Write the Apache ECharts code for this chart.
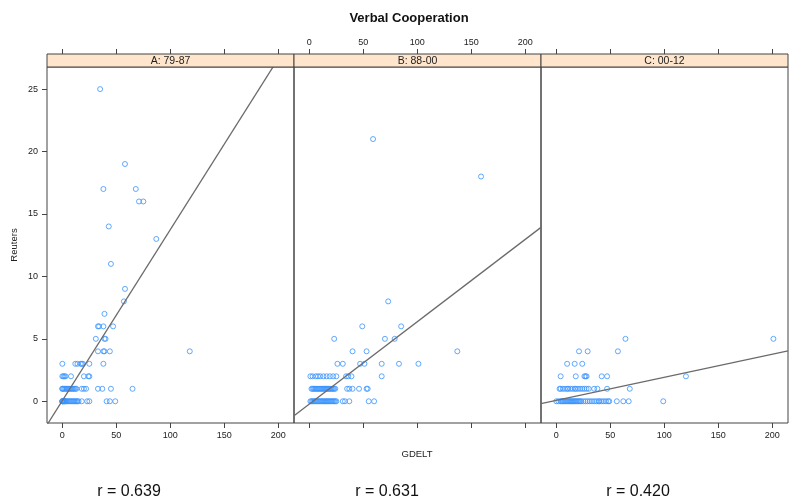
<!DOCTYPE html>
<html>
<head>
<meta charset="utf-8">
<script src="https://cdn.jsdelivr.net/npm/echarts@6/dist/echarts.min.js"></script>
<style>
html,body{margin:0;padding:0;background:#fff;}
#chart{width:789px;height:504px;}
</style>
</head>
<body>
<div id="chart"></div>
<script>
// ---- data ----
const panelNames = ['A: 79-87', 'B: 88-00', 'C: 00-12'];
const rLabels = ['r = 0.639', 'r = 0.631', 'r = 0.420'];
const xTicks = [0, 50, 100, 150, 200];
const yTicks = [0, 5, 10, 15, 20, 25];

// Reuters levels and GDELT values observed at each level
const panelA_reuters = [0, 1, 2, 3, 4, 5, 6, 7, 8, 9, 11, 13, 14, 16, 17, 19, 25];
const panelA_gdelt = [
  [0,0,0,0,1,1,2,2,3,3,4,5,6,7,8,9,10,11,12,13,14,15,18,23,25,41,44,49],
  [0,0,1,2,3,4,5,6,7,8,9,10,11,12,13,18,20,22,33,37,45,65],
  [0,1,2,3,8,20,24,25],
  [0,12,14,17,18,19,25,38],
  [33,38,39,44,118],
  [31,39,40],
  [33,34,38,47],
  [39],
  [57],
  [58],
  [45],
  [87],
  [43],
  [71,75],
  [38,68],
  [58],
  [35]
];

const panelB_reuters = [0, 1, 2, 3, 4, 5, 6, 8, 18, 21];
const panelB_gdelt = [
  [1,2,3,4,5,6,7,8,9,10,11,12,13,14,15,16,17,18,19,20,21,22,23,24,25,31,33,37,55,60],
  [2,3,4,5,6,7,8,9,10,11,12,13,14,15,16,17,18,19,20,21,22,23,24,35,37,40,46,53,54],
  [1,3,6,8,10,13,16,19,22,25,34,36,39,67],
  [26,31,47,51,67,83,101],
  [40,53,137],
  [23,70,79],
  [49,85],
  [73],
  [159],
  [59]
];

const panelC_reuters = [0, 1, 2, 3, 4, 5];
const panelC_gdelt = [
  [0,2,4,5,6,7,8,9,10,11,12,13,14,15,16,17,18,19,20,21,22,23,25,27,29,31,33,35,37,39,40,42,44,46,48,49,56,62,67,99],
  [3,4,6,8,10,11,13,15,17,18,20,22,24,26,28,30,35,38,47,68],
  [4,18,26,27,28,42,47,120],
  [10,17,24],
  [21,29,57],
  [64,201]
];

// fitted regression lines (intercept, slope) per panel
const regIntercept = [0.05, -0.23, 0.07];
const regSlope = [0.137, 0.066, 0.0185];

// axis ranges
const xRange = [-14.2, 214.5];
const yRange = [-1.74, 26.77];

// ---- build ----
const panelsReuters = [panelA_reuters, panelB_reuters, panelC_reuters];
const panelsGdelt = [panelA_gdelt, panelB_gdelt, panelC_gdelt];

const W = 247, TOP = 67, H = 356, STRIP = 13;
const lefts = [47, 294, 541];
const borderCol = '#444';
const textCol = '#222';
const FONT = 'Liberation Sans, Arial, sans-serif';

const grids = [], xAxes = [], yAxes = [], series = [], graphics = [];

for (let i = 0; i < 3; i++) {
  grids.push({left: lefts[i], top: TOP, width: W, height: H, show: true,
    borderColor: borderCol, borderWidth: 1, backgroundColor: 'transparent', containLabel: false});

  const labelBottom = (i !== 1);
  // bottom axis
  xAxes.push({type: 'value', gridIndex: i, position: 'bottom', min: xRange[0], max: xRange[1],
    axisLine: {show: false, onZero: false}, splitLine: {show: false},
    axisTick: {show: true, length: 5, lineStyle: {color: borderCol}, customValues: xTicks},
    axisLabel: {show: labelBottom, customValues: xTicks, fontSize: 9, color: textCol, margin: 8, fontFamily: FONT}
  });
  // top axis (above strip)
  xAxes.push({type: 'value', gridIndex: i, position: 'top', offset: STRIP, min: xRange[0], max: xRange[1],
    axisLine: {show: false, onZero: false}, splitLine: {show: false},
    axisTick: {show: true, length: 5, lineStyle: {color: borderCol}, customValues: xTicks},
    axisLabel: {show: !labelBottom, customValues: xTicks, fontSize: 9, color: textCol, margin: 7, fontFamily: FONT}
  });
  yAxes.push({type: 'value', gridIndex: i, position: 'left', min: yRange[0], max: yRange[1],
    axisLine: {show: false, onZero: false}, splitLine: {show: false},
    axisTick: {show: i === 0, length: 5, lineStyle: {color: borderCol}, customValues: yTicks},
    axisLabel: {show: i === 0, customValues: yTicks, fontSize: 9, color: textCol, margin: 9, fontFamily: FONT}
  });

  const pts = [];
  const levels = panelsReuters[i];
  const gd = panelsGdelt[i];
  for (let k = 0; k < levels.length; k++) {
    for (const gx of gd[k]) pts.push([gx, levels[k]]);
  }
  series.push({type: 'scatter', xAxisIndex: i * 2, yAxisIndex: i, data: pts,
    symbol: 'circle', symbolSize: 5, silent: true,
    itemStyle: {color: 'rgba(0,0,0,0)', borderColor: '#3a94ff', borderWidth: 1}, z: 3});

  series.push({type: 'line', xAxisIndex: i * 2, yAxisIndex: i, clip: true, symbol: 'none', silent: true,
    data: [[xRange[0], regIntercept[i] + regSlope[i] * xRange[0]], [xRange[1], regIntercept[i] + regSlope[i] * xRange[1]]],
    lineStyle: {color: '#6b6b6b', width: 1.3}, z: 4});

  // strip
  graphics.push({type: 'rect', shape: {x: lefts[i], y: TOP - STRIP, width: W, height: STRIP},
    style: {fill: '#FFE5CC', stroke: borderCol, lineWidth: 1}, z: 10});
  graphics.push({type: 'text', x: lefts[i] + W / 2, y: TOP - STRIP / 2 + 0.5,
    style: {text: panelNames[i], fill: textCol, font: '10.5px ' + FONT, align: 'center', verticalAlign: 'middle'}, z: 11});
}

// r labels
const rCenters = [129, 387, 638];
for (let i = 0; i < 3; i++) {
  graphics.push({type: 'text', x: rCenters[i], y: 492,
    style: {text: rLabels[i], fill: '#111', font: '16px ' + FONT, align: 'center', verticalAlign: 'middle'}});
}
// axis titles
graphics.push({type: 'text', x: 417, y: 454,
  style: {text: 'GDELT', fill: textCol, font: '9.5px ' + FONT, align: 'center', verticalAlign: 'middle'}});
graphics.push({type: 'text', x: 14, y: 245, rotation: Math.PI / 2,
  style: {text: 'Reuters', fill: textCol, font: '9.5px ' + FONT, align: 'center', verticalAlign: 'middle'}});
graphics.push({type: 'text', x: 409, y: 18,
  style: {text: 'Verbal Cooperation', fill: '#111', font: 'bold 13px ' + FONT, align: 'center', verticalAlign: 'middle'}});

const chart = echarts.init(document.getElementById('chart'), null, {renderer: 'canvas'});
chart.setOption({
  animation: false,
  backgroundColor: '#fff',
  grid: grids,
  xAxis: xAxes,
  yAxis: yAxes,
  series: series,
  graphic: graphics
});
</script>
</body>
</html>
